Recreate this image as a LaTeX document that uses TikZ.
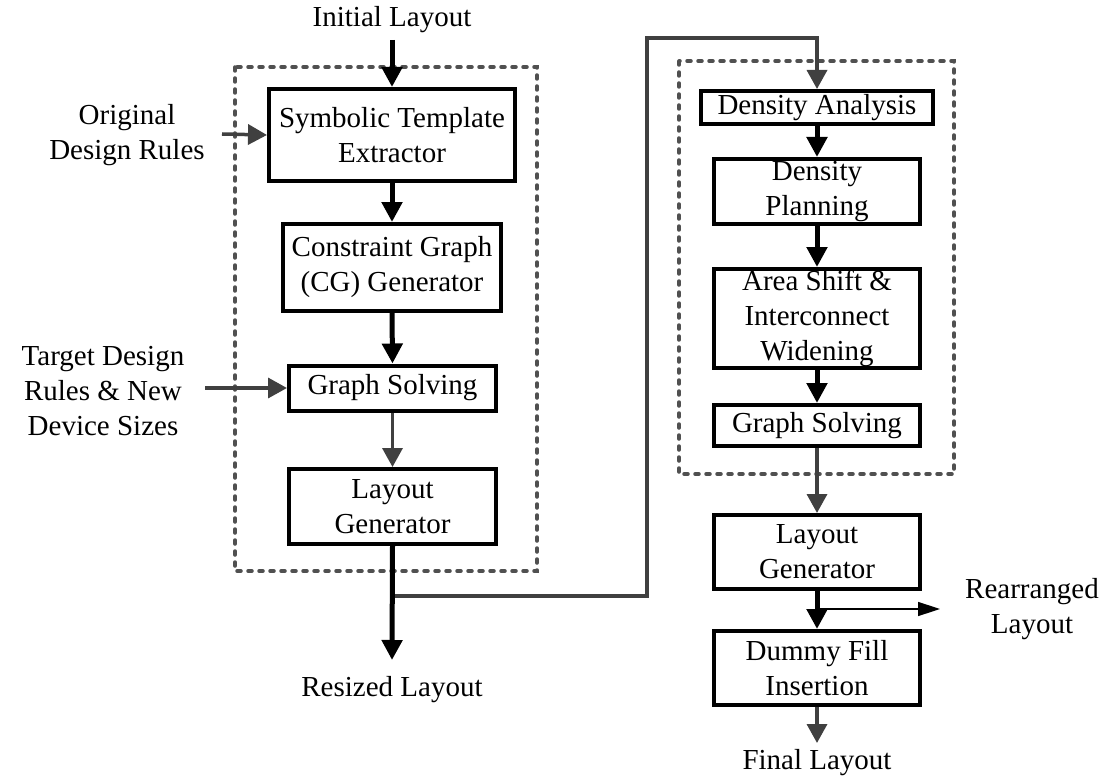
\documentclass[tikz,border=0pt]{standalone}
\usepackage{fontspec}
\setmainfont{Liberation Serif}
\usetikzlibrary{arrows.meta}
\definecolor{dgray}{HTML}{404040}
\definecolor{dashgray}{HTML}{505050}
\tikzset{
  box/.style={draw=black, line width=4pt, fill=white, align=center, inner sep=0pt},
  lbl/.style={align=center, inner sep=0pt},
  thickarr/.style={draw=black, line width=5pt, -{Triangle[length=20pt,width=20pt]}},
  grayarr/.style={draw=dgray, line width=3.5pt, -{Triangle[length=19pt,width=20pt]}},
  thinarr/.style={draw=black, line width=1.5pt, -{Triangle[length=22pt,width=14pt]}},
  dashbox/.style={draw=dashgray, line width=3.5pt, line cap=round, dash pattern=on 4pt off 7pt},
}
\begin{document}
\begin{tikzpicture}[x=1pt, y=-1pt, font=\fontsize{29}{35}\selectfont]
\useasboundingbox (0,0) rectangle (1117,781);

% dashed groups
\draw[dashbox] (235,67) rectangle (537,571);
\draw[dashbox] (679,61) rectangle (954,474);

% left column
\node[box, minimum width=246pt, minimum height=92pt] (b1) at (392,135) {Symbolic Template\\Extractor};
\node[box, minimum width=218pt, minimum height=87pt] (b2) at (392,267.5) {Constraint Graph\\(CG) Generator};
\node[box, minimum width=207pt, minimum height=45pt] (b3) at (392.5,388) {Graph Solving};
\node[box, minimum width=207pt, minimum height=75pt] (b4) at (392.5,506.5) {Layout\\Generator};

\node[lbl] (init) at (392,20) {Initial Layout};
\coordinate (initend) at (392,40);
\node[lbl] (orig) at (127,135) {Original\\Design Rules};
\coordinate (origstart) at (222,134);
\node[lbl] (tgt) at (103,391) {Target Design\\Rules \& New\\Device Sizes};
\coordinate (tgtstart) at (205,388);
\node[lbl] (resized) at (392,690) {Resized Layout};
\coordinate (resend) at (392,660);
\coordinate (junc) at (392,596);
\coordinate (c1) at (647,596);
\coordinate (c2) at (647,38);
\coordinate (c3) at (817,38);

% right column
\node[box, minimum width=232pt, minimum height=33pt] (r1) at (817,107.5) {Density Analysis};
\node[box, minimum width=206pt, minimum height=65pt] (r2) at (817,191.5) {Density\\Planning};
\node[box, minimum width=206pt, minimum height=99pt] (r3) at (817,318.5) {Area Shift \&\\Interconnect\\Widening};
\node[box, minimum width=206pt, minimum height=41pt] (r4) at (817,425.5) {Graph Solving};
\node[box, minimum width=206pt, minimum height=74pt] (r5) at (817,552) {Layout\\Generator};
\node[box, minimum width=206pt, minimum height=74pt] (r6) at (817,668) {Dummy Fill\\Insertion};
\node[lbl] (final) at (817,763) {Final Layout};
\coordinate (finend) at (817,743);
\node[lbl] (rearr) at (1032,609) {Rearranged\\Layout};
\coordinate (rstart) at (819,609);
\coordinate (rend) at (940,609);

% connectors left
\draw[thickarr] (initend) -- (b1.north);
\draw[thickarr] (b1.south) -- (b2.north);
\draw[thickarr] (b2.south) -- (b3.north);
\draw[grayarr] (b3.south) -- (b4.north);
\draw[grayarr] (origstart) -- (b1.west);
\draw[grayarr] (tgtstart) -- (b3.west);
\draw[draw=dgray, line width=3.5pt, -{Triangle[length=19pt,width=20pt]}] (junc) -- (c1) -- (c2) -- (c3) -- (r1.north);
\draw[thickarr] (b4.south) -- (resend);

% connectors right
\draw[thickarr] (r1.south) -- (r2.north);
\draw[thickarr] (r2.south) -- (r3.north);
\draw[thickarr] (r3.south) -- (r4.north);
\draw[grayarr] (r4.south) -- (r5.north);
\draw[thickarr] (r5.south) -- (r6.north);
\draw[grayarr] (r6.south) -- (finend);
\draw[thinarr] (rstart) -- (rend);
\end{tikzpicture}
\end{document}
